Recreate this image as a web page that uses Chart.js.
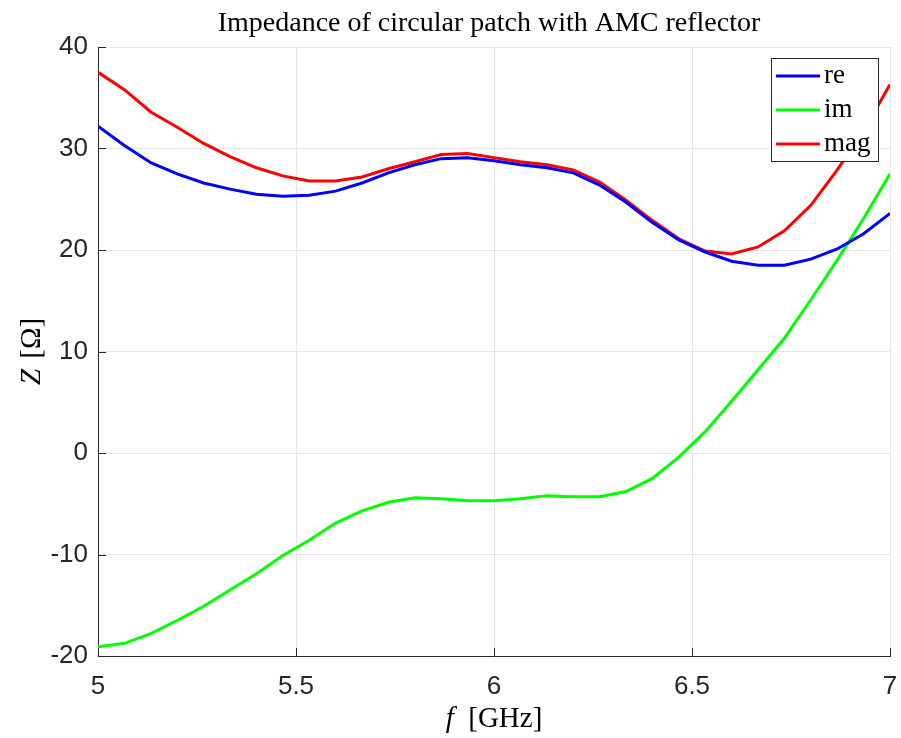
<!DOCTYPE html>
<html>
<head>
<meta charset="utf-8">
<script src="https://cdn.jsdelivr.net/npm/chart.js@4"></script>
<style>
  html, body { margin: 0; padding: 0; background: #fff; }
  #wrap { width: 901px; height: 738px; }
</style>
</head>
<body>
<div id="wrap"><canvas id="myChart" width="901" height="738"></canvas></div>
<script>
// frequency samples [GHz]
var freq = [5, 5.0667, 5.1333, 5.2, 5.2667, 5.3333, 5.4, 5.4667, 5.5333, 5.6, 5.6667,
            5.7333, 5.8, 5.8667, 5.9333, 6, 6.0667, 6.1333, 6.2, 6.2667, 6.3333,
            6.4, 6.4667, 6.5333, 6.6, 6.6667, 6.7333, 6.8, 6.8667, 6.9333, 7];

var re  = [32.2, 30.3, 28.6, 27.5, 26.6, 26.0, 25.5, 25.3, 25.4, 25.8, 26.6,
           27.6, 28.4, 29.0, 29.1, 28.8, 28.4, 28.1, 27.6, 26.4, 24.7,
           22.7, 21.0, 19.8, 18.9, 18.5, 18.5, 19.1, 20.1, 21.6, 23.6];
var im  = [-19.1, -18.75, -17.8, -16.5, -15.1, -13.5, -11.9, -10.1, -8.6, -6.9, -5.7,
           -4.85, -4.4, -4.5, -4.7, -4.7, -4.5, -4.2, -4.3, -4.3, -3.8,
           -2.5, -0.4, 2.1, 5.1, 8.2, 11.3, 15.1, 19.0, 23.1, 27.5];
var mag = [37.5, 35.8, 33.6, 32.1, 30.5, 29.2, 28.1, 27.3, 26.8, 26.8, 27.2,
           28.0, 28.7, 29.4, 29.5, 29.1, 28.7, 28.4, 27.9, 26.7, 24.9,
           22.9, 21.1, 19.9, 19.6, 20.3, 21.9, 24.4, 27.9, 31.7, 36.3];

var seriesNames = ['re', 'im', 'mag'];
var xTicks = [5, 5.5, 6, 6.5, 7];
var yTicks = [-20, -10, 0, 10, 20, 30, 40];

var titleText = 'Impedance of circular patch with AMC reflector';

function pts(ys) {
    return freq.map(function (f, i) { return { x: f, y: ys[i] }; });
}

var axisColor = '#262626';
var serif = '"Liberation Serif", serif';

// titles, inward ticks and legend box (MATLAB look)
var extras = {
    id: 'extras',
    afterDraw: function (chart) {
        var ctx = chart.ctx;
        var a = chart.chartArea;
        var sx = chart.scales.x, sy = chart.scales.y;
        ctx.save();

        // inward ticks
        ctx.strokeStyle = axisColor;
        ctx.lineWidth = 1;
        ctx.beginPath();
        xTicks.forEach(function (v) {
            var px = Math.round(sx.getPixelForValue(v)) + 0.5;
            ctx.moveTo(px, a.bottom);
            ctx.lineTo(px, a.bottom - 8);
        });
        yTicks.forEach(function (v) {
            var py = Math.round(sy.getPixelForValue(v)) + 0.5;
            ctx.moveTo(a.left, py);
            ctx.lineTo(a.left + 8, py);
        });
        ctx.stroke();

        // title
        ctx.fillStyle = '#000';
        ctx.textAlign = 'center';
        ctx.textBaseline = 'alphabetic';
        ctx.font = '28px ' + serif;
        ctx.fillText(titleText, (a.left + a.right) / 2 - 5, 31);

        // x axis label: f [GHz]
        var cx = (a.left + a.right) / 2;
        ctx.font = 'italic 29px ' + serif;
        var w1 = ctx.measureText('f  ').width;
        ctx.font = '29px ' + serif;
        var w2 = ctx.measureText('[GHz]').width;
        var x0 = cx - (w1 + w2) / 2;
        ctx.textAlign = 'left';
        ctx.font = 'italic 29px ' + serif;
        ctx.fillText('f', x0, 727);
        ctx.font = '29px ' + serif;
        ctx.fillText('[GHz]', x0 + w1, 727);

        // y axis label: Z [Ω]
        ctx.save();
        ctx.translate(40, (a.top + a.bottom) / 2);
        ctx.rotate(-Math.PI / 2);
        ctx.font = 'italic 29px ' + serif;
        var z1 = ctx.measureText('Z ').width + 3;
        ctx.font = '29px ' + serif;
        var z2 = ctx.measureText('[Ω]').width;
        var y0 = -(z1 + z2) / 2;
        ctx.font = 'italic 29px ' + serif;
        ctx.fillText('Z', y0, 0);
        ctx.font = '29px ' + serif;
        ctx.fillText('[Ω]', y0 + z1, 0);
        ctx.restore();

        // legend
        var lx = 771, ly = 58, lw = 107, lh = 103;
        ctx.fillStyle = '#fff';
        ctx.fillRect(lx, ly, lw, lh);
        ctx.strokeStyle = axisColor;
        ctx.lineWidth = 1;
        ctx.strokeRect(lx + 0.5, ly + 0.5, lw, lh);
        ctx.font = '27px ' + serif;
        ctx.textBaseline = 'middle';
        chart.data.datasets.forEach(function (ds, i) {
            var yy = ly + 18 + i * 34;
            ctx.strokeStyle = ds.borderColor;
            ctx.lineWidth = 3;
            ctx.beginPath();
            ctx.moveTo(lx + 5, yy);
            ctx.lineTo(lx + 49, yy);
            ctx.stroke();
            ctx.fillStyle = '#000';
            ctx.fillText(ds.label, lx + 53, yy);
        });
        ctx.restore();
    }
};

var ctx = document.getElementById('myChart').getContext('2d');
var chart = new Chart(ctx, {
    type: 'line',
    data: {
        datasets: [
            { label: seriesNames[0], data: pts(re),  borderColor: '#0000ff' },
            { label: seriesNames[1], data: pts(im),  borderColor: '#00ff00' },
            { label: seriesNames[2], data: pts(mag), borderColor: '#ff0000' }
        ]
    },
    options: {
        responsive: false,
        animation: false,
        layout: { padding: { top: 47, right: 11, left: 0, bottom: 0 } },
        elements: {
            point: { radius: 0 },
            line: { borderWidth: 3, tension: 0, fill: false }
        },
        plugins: {
            legend: { display: false },
            tooltip: { enabled: false }
        },
        scales: {
            x: {
                type: 'linear',
                min: 5, max: 7,
                afterBuildTicks: function (s) { s.ticks = xTicks.map(function (v) { return { value: v }; }); },
                afterFit: function (s) { s.height = 82; s.paddingRight = 0; s.paddingLeft = 0; },
                grid: { color: '#e6e6e6', drawTicks: false },
                border: { color: axisColor },
                ticks: {
                    padding: 15,
                    color: axisColor,
                    font: { family: '"Liberation Sans", Arial, sans-serif', size: 26 },
                    maxRotation: 0,
                    callback: function (v) { return String(v); }
                }
            },
            y: {
                min: -20, max: 40,
                afterBuildTicks: function (s) { s.ticks = yTicks.map(function (v) { return { value: v }; }); },
                afterFit: function (s) { s.width = 98; s.paddingTop = 0; s.paddingBottom = 0; },
                grid: { color: '#e6e6e6', drawTicks: false },
                border: { color: axisColor },
                ticks: {
                    padding: 10,
                    color: axisColor,
                    font: { family: '"Liberation Sans", Arial, sans-serif', size: 26 }
                }
            }
        }
    },
    plugins: [extras]
});
</script>
</body>
</html>
